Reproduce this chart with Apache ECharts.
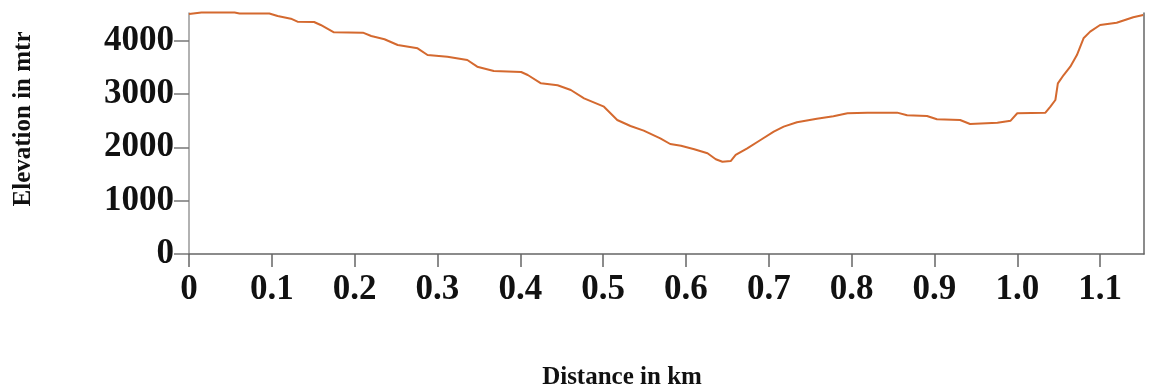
<!DOCTYPE html>
<html>
<head>
<meta charset="utf-8">
<title>Elevation profile</title>
<script src="https://cdn.jsdelivr.net/npm/echarts@6/dist/echarts.min.js"></script>
<style>
  html, body { margin: 0; padding: 0; background: #ffffff; }
  #chart { width: 1150px; height: 390px; }
</style>
</head>
<body>
<div id="chart"></div>
<script>
// Distance along the route (km)
const distanceKm = [
  0.000, 0.015, 0.055, 0.061, 0.097, 0.107, 0.123, 0.131, 0.151, 0.159,
  0.175, 0.210, 0.220, 0.236, 0.252, 0.276, 0.288, 0.312, 0.336, 0.348,
  0.368, 0.401, 0.409, 0.425, 0.445, 0.461, 0.477, 0.501, 0.517, 0.533,
  0.549, 0.569, 0.581, 0.594, 0.610, 0.626, 0.636, 0.644, 0.654, 0.660,
  0.674, 0.690, 0.706, 0.718, 0.734, 0.758, 0.778, 0.795, 0.819, 0.855,
  0.867, 0.891, 0.903, 0.931, 0.943, 0.976, 0.992, 1.000, 1.034, 1.040,
  1.046, 1.049, 1.056, 1.064, 1.072, 1.080, 1.088, 1.100, 1.120, 1.140,
  1.152
];

// Elevation at each distance (m)
const elevationM = [
  4500, 4530, 4530, 4512, 4512, 4464, 4413, 4357, 4351, 4295,
  4158, 4151, 4089, 4027, 3920, 3858, 3732, 3700, 3638, 3513,
  3432, 3413, 3357, 3201, 3164, 3076, 2920, 2763, 2513, 2401,
  2313, 2170, 2063, 2031, 1964, 1889, 1776, 1731, 1744, 1857,
  1982, 2138, 2294, 2388, 2470, 2538, 2582, 2639, 2651, 2651,
  2601, 2588, 2526, 2513, 2438, 2463, 2501, 2639, 2651, 2763,
  2888, 3201, 3357, 3513, 3732, 4045, 4170, 4295, 4338, 4439,
  4482
];

// Axis ticks and their labels
const xTickValues = [0, 0.1, 0.2, 0.3, 0.4, 0.5, 0.6, 0.7, 0.8, 0.9, 1.0, 1.1];
const xTickLabels = ['0', '0.1', '0.2', '0.3', '0.4', '0.5', '0.6', '0.7', '0.8', '0.9', '1.0', '1.1'];
const yTickValues = [0, 1000, 2000, 3000, 4000];
const yTickLabels = ['0', '1000', '2000', '3000', '4000'];

const xTitle = 'Distance in km';
const yTitle = 'Elevation in mtr';

const tickFont = {
  fontFamily: '"Liberation Serif", "Times New Roman", serif',
  fontWeight: 'bold',
  fontSize: 35,
  color: '#111111'
};

function labelFor(values, labels) {
  return function (v) {
    for (let i = 0; i < values.length; i++) {
      if (Math.abs(values[i] - v) < 1e-6) return labels[i];
    }
    return '';
  };
}

const chart = echarts.init(document.getElementById('chart'), null, { renderer: 'canvas' });

chart.setOption({
  animation: false,
  backgroundColor: '#ffffff',
  grid: { left: 189, right: 6, top: 13, bottom: 136, containLabel: false },
  xAxis: {
    type: 'value',
    min: 0,
    max: 1.153,
    axisLine: { show: true, onZero: false, lineStyle: { color: '#666666', width: 1.5 } },
    axisTick: {
      show: true,
      length: 13,
      customValues: xTickValues,
      lineStyle: { color: '#666666', width: 1.5 }
    },
    axisLabel: Object.assign({
      margin: 18,
      customValues: xTickValues,
      formatter: labelFor(xTickValues, xTickLabels)
    }, tickFont),
    splitLine: { show: false }
  },
  yAxis: [
    {
      type: 'value',
      min: 0,
      max: 4520,
      axisLine: { show: true, lineStyle: { color: '#999999', width: 1.5 } },
      axisTick: {
        show: true,
        length: 15,
        customValues: yTickValues,
        lineStyle: { color: '#777777', width: 1.5 }
      },
      axisLabel: Object.assign({
        margin: 15,
        customValues: yTickValues,
        formatter: labelFor(yTickValues, yTickLabels)
      }, tickFont),
      splitLine: { show: false }
    },
    {
      // right-hand frame edge
      type: 'value',
      position: 'right',
      min: 0,
      max: 4520,
      axisLine: { show: true, lineStyle: { color: '#666666', width: 1.5 } },
      axisTick: { show: false },
      axisLabel: { show: false },
      splitLine: { show: false }
    }
  ],
  series: [
    {
      type: 'line',
      data: distanceKm.map((d, i) => [d, elevationM[i]]),
      showSymbol: false,
      smooth: false,
      clip: false,
      lineStyle: { color: '#d4692f', width: 2 },
      itemStyle: { color: '#d4692f' }
    }
  ],
  graphic: [
    {
      type: 'text',
      x: 24,
      y: 119,
      rotation: Math.PI / 2,
      style: {
        text: yTitle,
        font: 'bold 25px "Liberation Serif", "Times New Roman", serif',
        fill: '#111111',
        align: 'center',
        verticalAlign: 'middle'
      }
    },
    {
      type: 'text',
      x: 622,
      y: 378,
      style: {
        text: xTitle,
        font: 'bold 25px "Liberation Serif", "Times New Roman", serif',
        fill: '#111111',
        align: 'center',
        verticalAlign: 'middle'
      }
    }
  ]
});
</script>
</body>
</html>
